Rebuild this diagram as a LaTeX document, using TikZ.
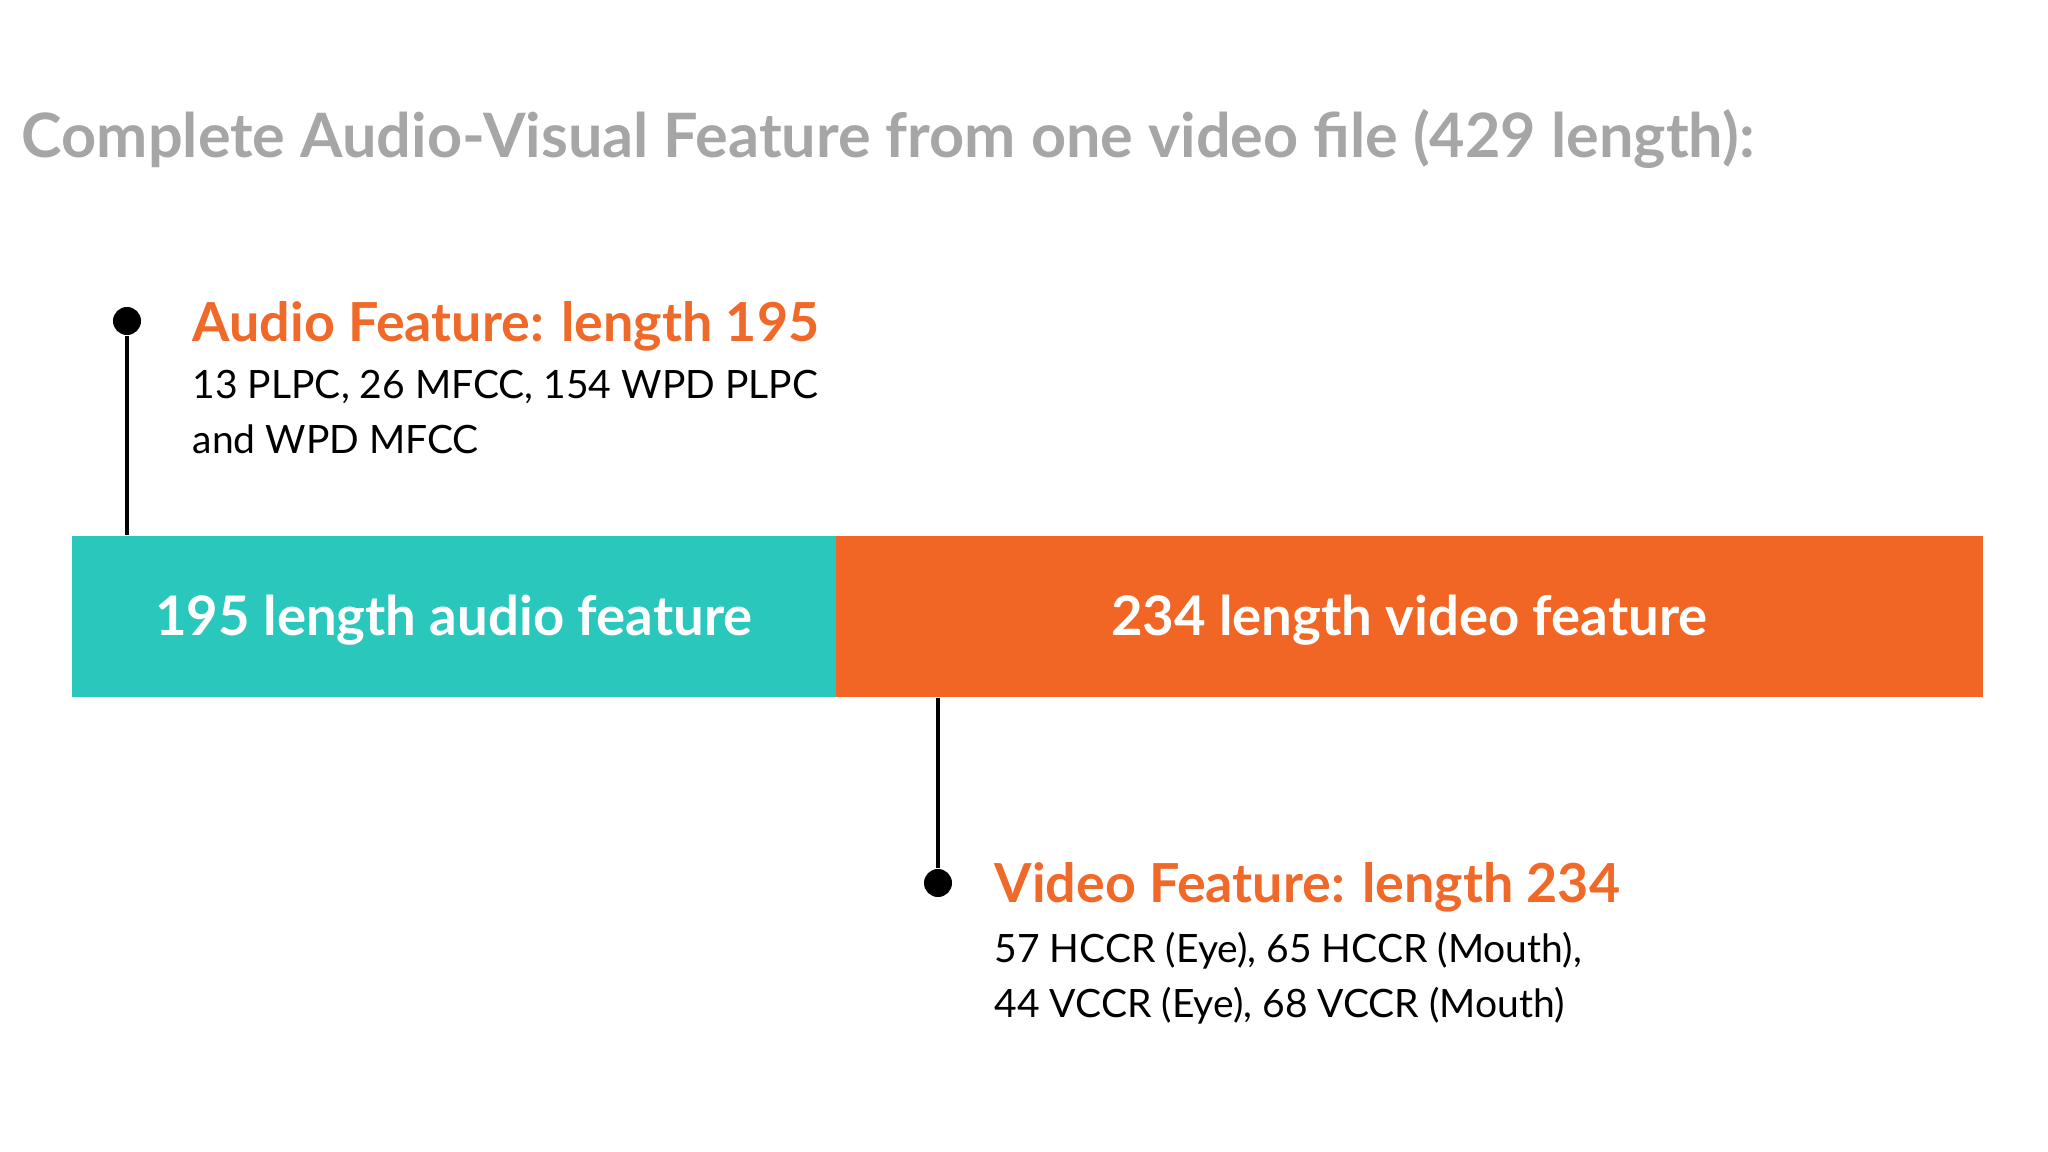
\documentclass[tikz,border=0pt]{standalone}
\usepackage{fontspec}
\setmainfont{Lato}
\usepackage{xcolor}
\usepackage{tikz}
\usetikzlibrary{positioning}
\definecolor{barteal}{RGB}{42,199,188}
\definecolor{barorange}{RGB}{241,102,36}
\definecolor{headorange}{RGB}{240,105,40}
\definecolor{titlegray}{RGB}{166,166,166}

\begin{document}
\begin{tikzpicture}[x=0.01cm, y=-0.01cm,
titletext/.style={font=\fontsize{17.4}{21}\selectfont\bfseries, text=titlegray, inner sep=0, anchor=base west},
headtext/.style={font=\fontsize{15.3}{18}\selectfont\bfseries, text=headorange, inner sep=0, anchor=base west},
bodytext/.style={font=\fontsize{11.1}{15.6}\selectfont, align=left, inner sep=0, anchor=north west},
barbox/.style={font=\fontsize{15.5}{18}\selectfont\bfseries, text=white, minimum height=1.61cm, inner sep=0, anchor=north west, text depth=0.02cm},
pindot/.style={circle, fill=black, minimum size=0.28cm, inner sep=0},
pinline/.style={line width=1.1pt}]
\useasboundingbox (0,0) rectangle (2048,1152);
\node[titletext] (title) at (21,158) {Complete Audio-Visual Feature from one video file (429 length):};
%bars
\node[barbox, fill=barteal, minimum width=7.64cm] (abar) at (71,535) {195 length audio feature};
\node[barbox, fill=barorange, minimum width=11.47cm] (vbar) at ([xshift=-0.02cm]abar.north east) {234 length video feature};
%audio
\node[pindot] (adot) at (127,321) {};
\coordinate (atop) at (adot |- abar.north);
\node[headtext] (ahead) at (192,342) {Audio Feature: length 195};
\node[bodytext] (abody) at (192,370) {13 PLPC, 26 MFCC, 154 WPD PLPC\\and WPD MFCC};
%video
\node[pindot] (vdot) at (938,883) {};
\coordinate (vfoot) at (vdot |- vbar.south);
\node[headtext] (vhead) at (994,902) {Video Feature: length 234};
\node[bodytext] (vbody) at (994,932) {57 HCCR (Eye), 65 HCCR (Mouth),\\44 VCCR (Eye), 68 VCCR (Mouth)};
\draw [pinline] (adot) edge (atop);
\draw [pinline] (vfoot) edge (vdot);
\end{tikzpicture}
\end{document}
